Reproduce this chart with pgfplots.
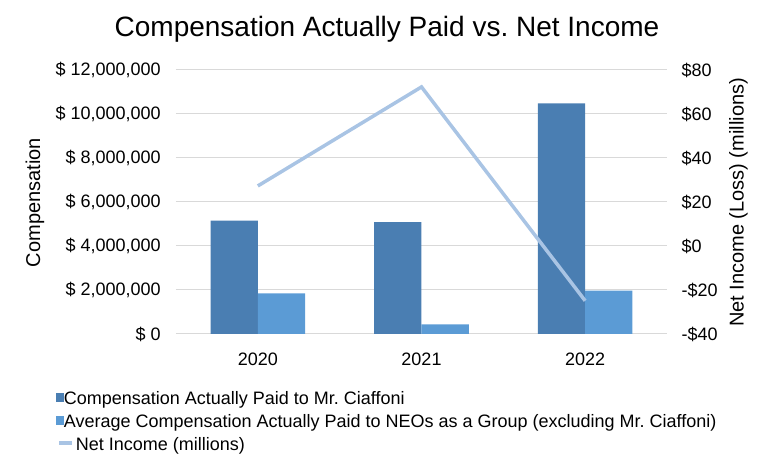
\documentclass[border=0pt]{standalone}
\usepackage{pgfplots}
\pgfplotsset{compat=1.18}
\usepackage{fontspec}
\setmainfont{Liberation Sans}
\frenchspacing
\definecolor{cdark}{RGB}{74,126,178}
\definecolor{clight}{RGB}{91,155,213}
\definecolor{cline}{RGB}{169,196,228}
\definecolor{gridgray}{RGB}{217,217,217}
\begin{document}
\frenchspacing
\begin{tikzpicture}
\useasboundingbox (-176pt,-134pt) rectangle (598pt,334pt);
\node[font=\fontsize{28}{34}\selectfont, anchor=base] at (211pt,297pt) {Compensation Actually Paid vs.\ Net Income};
\begin{axis}[
  at={(0pt,0pt)}, anchor=south west,
  scale only axis, width=491pt, height=264pt,
  xmin=-0.5, xmax=2.5, ymin=0, ymax=12000000,
  xtick={0,1,2}, xticklabels={2020,2021,2022},
  ytick={0,2000000,4000000,6000000,8000000,10000000,12000000},
  yticklabels={{\$ 0},{\$ 2,000,000},{\$ 4,000,000},{\$ 6,000,000},{\$ 8,000,000},{\$ 10,000,000},{\$ 12,000,000}},
  scaled y ticks=false,
  axis line style={draw=none},
  major tick length=0pt,
  ymajorgrids, grid style={draw=gridgray, line width=1pt},
  tick label style={font=\fontsize{18}{21}\selectfont, text=black},
  yticklabel style={xshift=-11.7pt},
  xticklabel style={yshift=-15pt},
  ylabel={Compensation},
  ylabel style={font=\fontsize{20}{24}\selectfont, at={(axis description cs:-0.287,0.498)}, anchor=center},
]
\addplot[ybar, bar width=47.3pt, bar shift=-23.65pt, fill=cdark, draw=none] coordinates {(0,5150000) (1,5080000) (2,10480000)};
\addplot[ybar, bar width=47.3pt, bar shift=23.65pt, fill=clight, draw=none] coordinates {(0,1850000) (1,440000) (2,1970000)};
\end{axis}
\begin{axis}[
  at={(0pt,0pt)}, anchor=south west,
  scale only axis, width=491pt, height=264pt,
  xmin=-0.5, xmax=2.5, ymin=-40, ymax=80,
  axis x line=none,
  axis y line*=right,
  axis line style={draw=none},
  major tick length=0pt,
  ytick={-40,-20,0,20,40,60,80},
  yticklabels={{-\$40},{-\$20},{\$0},{\$20},{\$40},{\$60},{\$80}},
  tick label style={font=\fontsize{18}{21}\selectfont, text=black},
  yticklabel style={xshift=11pt},
  ylabel={Net Income (Loss) (millions)},
  ylabel style={font=\fontsize{20}{24}\selectfont, at={(axis description cs:1.1456,0.498)}, anchor=center, rotate=0},
  legend style={at={(axis description cs:-0.251,-0.209)}, anchor=north west, draw=none, fill=none,
    font=\fontsize{18}{21}\selectfont\frenchspacing, row sep=6pt,
    nodes={inner sep=0pt, text height=13pt, text depth=4pt}},
  legend cell align=left,
  /tikz/every even column/.append style={column sep=5pt},
]
\addlegendimage{legend image code/.code={\fill[cdark] (0pt,-1pt) rectangle (7.5pt,7pt);}}
\addlegendentry{Compensation Actually Paid to Mr.\ Ciaffoni}
\addlegendimage{legend image code/.code={\fill[clight] (0pt,-1pt) rectangle (7.5pt,7pt);}}
\addlegendentry{Average Compensation Actually Paid to NEOs as a Group (excluding Mr.\ Ciaffoni)}
\addplot[cline, line width=3.5pt, legend image code/.code={\path[draw=none] (0pt,0pt) -- (7.5pt,0pt); \draw[overlay, cline, line width=3.5pt] (3.3pt,3pt) -- (16.3pt,3pt);}] coordinates {(0,27.3) (1,72.3) (2,-24.9)};
\addlegendentry{\hspace{12pt}Net Income (millions)}
\end{axis}
\end{tikzpicture}
\end{document}
